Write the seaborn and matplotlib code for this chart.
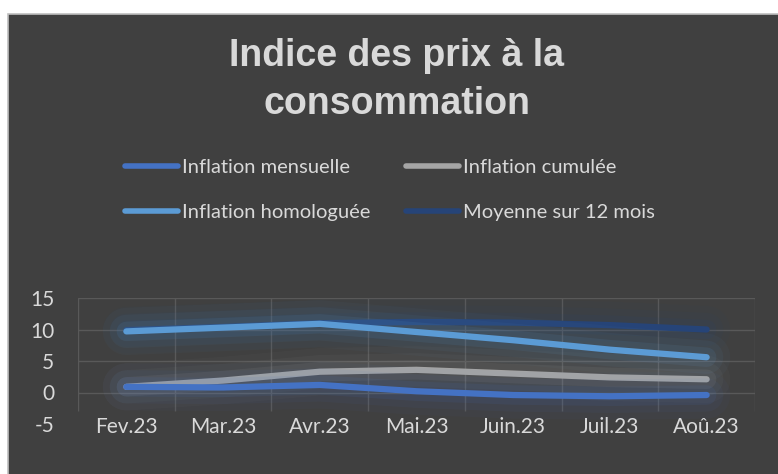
#!/usr/bin/env python3
"""Indice des prix a la consommation, fevrier-aout 2023."""

import matplotlib

matplotlib.use("Agg")
import matplotlib.patheffects as pe
import matplotlib.pyplot as plt
import pandas as pd
import seaborn as sns
from matplotlib.patches import Rectangle

MONTHS = ["Fev.23", "Mar.23", "Avr.23", "Mai.23", "Juin.23", "Juil.23", "Aoû.23"]
MENSUELLE = [0.9, 0.8, 1.2, 0.2, -0.4, -0.6, -0.4]
CUMULEE = [0.9, 1.9, 3.3, 3.6, 3.0, 2.4, 2.1]
HOMOLOGUEE = [9.7, 10.3, 10.9, 9.6, 8.3, 6.8, 5.6]
MOYENNE = [9.9, 10.4, 11.0, 11.2, 11.1, 10.7, 10.0]

SERIES = {
    "Inflation mensuelle": MENSUELLE,
    "Inflation cumulée": CUMULEE,
    "Inflation homologuée": HOMOLOGUEE,
    "Moyenne sur 12 mois": MOYENNE,
}
COLORS = {
    "Inflation mensuelle": "#4472C4",
    "Inflation cumulée": "#A5A5A5",
    "Inflation homologuée": "#5B9BD5",
    "Moyenne sur 12 mois": "#264478",
}

BG = "#404040"
TEXT = "#D9D9D9"
GRID = "#595959"


def main() -> None:
    rows = []
    for name, values in SERIES.items():
        for month, v in zip(MONTHS, values):
            rows.append({"mois": month, "valeur": v, "serie": name})
    df = pd.DataFrame(rows)

    sns.set_theme(style="dark")
    plt.rcParams["font.family"] = ["Lato", "DejaVu Sans"]
    plt.rcParams["axes.unicode_minus"] = False

    fig = plt.figure(figsize=(7.78, 4.74), dpi=100, facecolor="white")
    # dark chart panel with thin light border
    fig.patches.append(
        Rectangle((8 / 778, -0.01), 1.0, 1 - 14 / 474 + 0.01, transform=fig.transFigure,
                  facecolor=BG, edgecolor="#BFBFBF", linewidth=1.2, zorder=-10)
    )
    ax = fig.add_axes([78 / 778, 1 - 424 / 474, (755 - 78) / 778, (424 - 298) / 474])
    ax.set_facecolor(BG)

    # draw the darkest series first so the lighter ones sit on top
    order = ["Moyenne sur 12 mois", "Inflation homologuée", "Inflation cumulée", "Inflation mensuelle"]
    sns.lineplot(
        data=df,
        x="mois",
        y="valeur",
        hue="serie",
        hue_order=order,
        palette=COLORS,
        linewidth=4.5,
        sort=False,
        ax=ax,
    )
    for line in ax.lines:
        c = line.get_color()
        line.set_solid_capstyle("round")
        line.set_zorder(3)
        line.set_path_effects([
            pe.Stroke(linewidth=34, foreground=c, alpha=0.04),
            pe.Stroke(linewidth=24, foreground=c, alpha=0.06),
            pe.Stroke(linewidth=14, foreground=c, alpha=0.10),
            pe.Normal(),
        ])

    ax.set_xlim(-0.5, len(MONTHS) - 0.5)
    ax.set_ylim(-5, 15)
    ax.set_yticks([-5, 0, 5, 10, 15])
    ax.set_xticks(range(len(MONTHS)))
    ax.set_xticklabels(MONTHS)
    ax.set_xlabel("")
    ax.set_ylabel("")
    ax.grid(False)
    for y in [0, 5, 10, 15]:
        ax.axhline(y, color=GRID, linewidth=1, zorder=1)
    ax.vlines([i - 0.5 for i in range(len(MONTHS) + 1)], -2.9, 15, color=GRID, linewidth=1, zorder=1)
    for s in ax.spines.values():
        s.set_visible(False)
    ax.tick_params(axis="both", which="both", length=0, colors=TEXT, labelsize=15)
    ax.tick_params(axis="x", pad=-5)
    ax.tick_params(axis="y", pad=17)

    handles, labels = ax.get_legend_handles_labels()
    hmap = dict(zip(labels, handles))
    leg_order = ["Inflation mensuelle", "Inflation homologuée", "Inflation cumulée", "Moyenne sur 12 mois"]
    ax.get_legend().remove()
    leg = fig.legend(
        [hmap[k] for k in leg_order],
        leg_order,
        ncol=2,
        loc="center",
        bbox_to_anchor=(0.501, 1 - 190 / 474),
        frameon=False,
        fontsize=14.5,
        handlelength=2.6,
        handletextpad=0.2,
        columnspacing=1.8,
        labelspacing=1.35,
        labelcolor=TEXT,
    )
    for h in leg.get_lines():
        h.set_path_effects([])
        h.set_linewidth(4)

    fig.text(0.51, 1 - 80 / 474, "Indice des prix à la\nconsommation", ha="center", va="center",
             fontsize=27, fontweight="bold", color=TEXT, family=["Liberation Sans", "DejaVu Sans"],
             linespacing=1.4)

    fig.savefig("out.png", dpi=100, facecolor=fig.get_facecolor())


if __name__ == "__main__":
    main()
